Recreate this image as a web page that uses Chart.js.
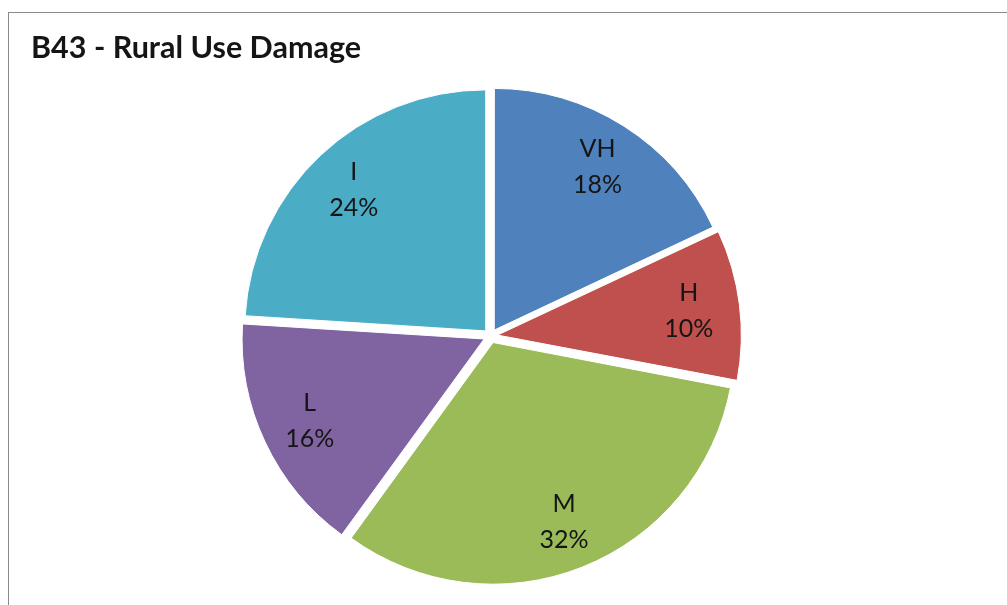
<!DOCTYPE html>
<html>
<head>
<meta charset="utf-8">
<script src="https://cdn.jsdelivr.net/npm/chart.js@4"></script>
<style>
    body { margin: 0; background: #fff; overflow: hidden; }
    .frame { position: absolute; left: 8px; top: 12px; width: 1100px; height: 700px; border: 1px solid #8a8a8a; }
    .box { position: absolute; left: 0; top: 0; width: 1007px; height: 605px; }
</style>
</head>
<body>
<div class="frame"></div>
<div class="box"><canvas id="pie"></canvas></div>
<script>
const categories = ["VH", "H", "M", "L", "I"];
const shares = [18, 10, 32, 16, 24];
const sliceColors = ["#4f81bd", "#c0504d", "#9bbb59", "#8064a2", "#4bacc6"];

// arc offset in chart.js v4 is drawn at a quarter of the option value
const explode = 28;

const sliceLabels = {
    id: "sliceLabels",
    afterDatasetsDraw(chart) {
        const ctx = chart.ctx;
        const meta = chart.getDatasetMeta(0);
        const total = shares.reduce((a, b) => a + b, 0);
        ctx.save();
        ctx.font = "25px Lato";
        ctx.fillStyle = "#151515";
        ctx.textAlign = "center";
        ctx.textBaseline = "middle";
        meta.data.forEach((arc, i) => {
            const p = arc.getProps(["x", "y", "startAngle", "endAngle", "outerRadius"], true);
            const mid = (p.startAngle + p.endAngle) / 2;
            const r = p.outerRadius * 0.8 + explode / 4;
            const lx = p.x + Math.cos(mid) * r;
            const ly = p.y + Math.sin(mid) * r;
            ctx.fillText(categories[i], lx, ly - 18);
            ctx.fillText(Math.round(shares[i] / total * 100) + "%", lx, ly + 18);
        });
        ctx.restore();
    }
};

new Chart(document.querySelector("#pie"), {
    type: "pie",
    data: {
        labels: categories,
        datasets: [{
            data: shares,
            backgroundColor: sliceColors,
            borderColor: "#ffffff",
            borderWidth: 1,
            offset: explode,
            hoverOffset: explode,
            radius: 241
        }]
    },
    options: {
        responsive: true,
        maintainAspectRatio: false,
        animation: false,
        layout: {
            padding: { left: 31, right: 57, top: 30, bottom: 13 }
        },
        plugins: {
            legend: { display: false },
            tooltip: { enabled: false },
            title: {
                display: true,
                text: "B43 - Rural Use Damage",
                align: "start",
                color: "#151515",
                font: { family: "Lato", size: 30.5, weight: "bold" },
                padding: { top: 0, bottom: 13.4 }
            }
        }
    },
    plugins: [sliceLabels]
});
</script>
</body>
</html>
